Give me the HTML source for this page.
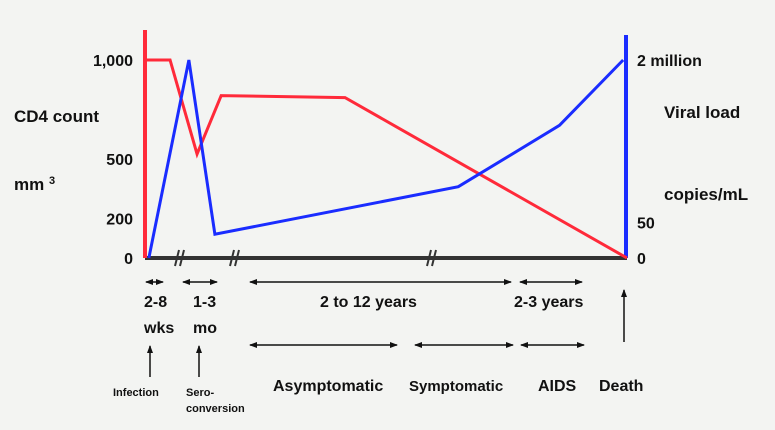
<!DOCTYPE html>
<html><head><meta charset="utf-8"><style>
body{margin:0;background:#f3f4f2;}
svg{display:block;font-family:"Liberation Sans",sans-serif;font-weight:bold;}
</style></head><body>
<svg id="chart" width="775" height="430" viewBox="0 0 775 430">
<defs>
<marker id="ah" markerWidth="8" markerHeight="8" refX="7" refY="4" orient="auto-start-reverse" markerUnits="userSpaceOnUse"><path d="M0,1 L8,4 L0,7 z" fill="#111"/></marker>
</defs>
<rect width="775" height="430" fill="#f3f4f2"/>
<g id="yleft" font-size="16" fill="#111" text-anchor="end"></g>
<text x="14" y="122" font-size="17" fill="#111">CD4 count</text>
<text x="14" y="190" font-size="17" fill="#111">mm <tspan font-size="11" dy="-6">3</tspan></text>
<g id="yright" font-size="16" fill="#111"></g>
<text x="664" y="118" font-size="17" fill="#111">Viral load</text>
<text x="664" y="200" font-size="17" fill="#111">copies/mL</text>
<line x1="145" y1="258" x2="627" y2="258" stroke="#333" stroke-width="4"/>
<g stroke="#333" stroke-width="2">
<line x1="175" y1="266" x2="179" y2="250"/><line x1="180" y1="266" x2="184" y2="250"/>
<line x1="230" y1="266" x2="234" y2="250"/><line x1="235" y1="266" x2="239" y2="250"/>
<line x1="427" y1="266" x2="431" y2="250"/><line x1="432" y1="266" x2="436" y2="250"/>
</g>
<line x1="145" y1="30" x2="145" y2="258" stroke="#ff2a3a" stroke-width="4"/>
<line x1="626" y1="35" x2="626" y2="258" stroke="#1a2cff" stroke-width="4"/>
<g id="series"></g>
<g stroke="#111" stroke-width="1.5" fill="none">
<line x1="146" y1="282" x2="163" y2="282" marker-start="url(#ah)" marker-end="url(#ah)"/>
<line x1="183" y1="282" x2="217" y2="282" marker-start="url(#ah)" marker-end="url(#ah)"/>
<line x1="250" y1="282" x2="511" y2="282" marker-start="url(#ah)" marker-end="url(#ah)"/>
<line x1="520" y1="282" x2="582" y2="282" marker-start="url(#ah)" marker-end="url(#ah)"/>
<line x1="250" y1="345" x2="397" y2="345" marker-start="url(#ah)" marker-end="url(#ah)"/>
<line x1="415" y1="345" x2="513" y2="345" marker-start="url(#ah)" marker-end="url(#ah)"/>
<line x1="521" y1="345" x2="584" y2="345" marker-start="url(#ah)" marker-end="url(#ah)"/>
<line x1="150" y1="377" x2="150" y2="346" marker-end="url(#ah)"/>
<line x1="199" y1="377" x2="199" y2="346" marker-end="url(#ah)"/>
<line x1="624" y1="342" x2="624" y2="290" marker-end="url(#ah)"/>
</g>
<g font-size="16" fill="#111">
<text x="144" y="307">2-8</text><text x="144" y="333">wks</text>
<text x="193" y="307">1-3</text><text x="193" y="333">mo</text>
<text x="320" y="307">2 to 12 years</text>
<text x="514" y="307">2-3 years</text>
<text x="273" y="391">Asymptomatic</text>
<text x="409" y="391" font-size="15">Symptomatic</text>
<text x="538" y="391">AIDS</text>
<text x="599" y="391">Death</text>
<text x="113" y="396" font-size="11">Infection</text>
<text x="186" y="396" font-size="11">Sero-</text>
<text x="186" y="412" font-size="11">conversion</text>
</g>
</svg>
<script>
const leftTicks=[0,200,500,1000];
const leftTickLabels=["0","200","500","1,000"];
const rightTicks=[0,18,100];
const rightTickLabels=["0","50","2 million"];
const cd4Time=[0,5.2,10.8,15.8,41.5,100];
const cd4Values=[1000,1000,525,820,810,0];
const viralTime=[0.8,9.1,14.5,65,86,99.2];
const viralValues=[0,100,12,36,67,100];
const x=t=>145+t*4.82;
const yL=v=>258-v*0.198;
const yR=v=>258-v*1.98;
const ns="http://www.w3.org/2000/svg";
const gl=document.getElementById('yleft');
leftTicks.forEach((v,i)=>{const t=document.createElementNS(ns,'text');
t.setAttribute('x',133);t.setAttribute('y',yL(v)+6);t.textContent=leftTickLabels[i];


gl.appendChild(t);});
const gr=document.getElementById('yright');
rightTicks.forEach((v,i)=>{const t=document.createElementNS(ns,'text');
t.setAttribute('x',637);t.setAttribute('y',yR(v)+6);t.textContent=rightTickLabels[i];


gr.appendChild(t);});
const s=document.getElementById('series');
const red=document.createElementNS(ns,'polyline');
red.setAttribute('points',cd4Time.map((t,i)=>x(t)+','+yL(cd4Values[i])).join(' '));
red.setAttribute('fill','none');red.setAttribute('stroke','#ff2a3a');red.setAttribute('stroke-width','3');


s.appendChild(red);
const blue=document.createElementNS(ns,'polyline');
blue.setAttribute('points',viralTime.map((t,i)=>x(t)+','+yR(viralValues[i])).join(' '));
blue.setAttribute('fill','none');blue.setAttribute('stroke','#1a2cff');blue.setAttribute('stroke-width','3');


s.appendChild(blue);
</script>
</body></html>
